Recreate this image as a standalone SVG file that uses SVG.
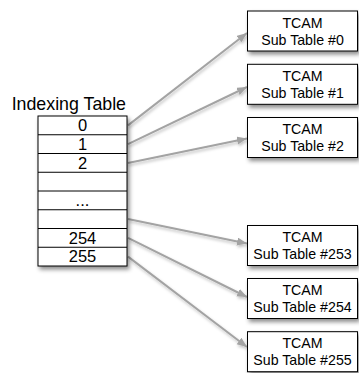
<svg xmlns="http://www.w3.org/2000/svg" width="359" height="373" viewBox="0 0 359 373">
  <style>
    .box { fill: #ffffff; stroke: #000000; stroke-width: 1; }
    .row { fill: none; stroke: #000000; stroke-width: 1; }
    .t { font-family: "Liberation Sans", Arial, sans-serif; fill: #000000; text-anchor: middle; }
    .bt { font-size: 14.2px; }
    .rt { font-size: 16.5px; }
    .lbl { font-size: 17.8px; text-anchor: end; }
    .conn { fill: none; stroke: #a3a3a3; stroke-width: 2; }
  </style>
  <defs>
    <filter id="sh" x="-20%" y="-20%" width="150%" height="150%">
      <feDropShadow dx="2" dy="3" stdDeviation="2" flood-color="#000000" flood-opacity="0.45"/>
    </filter>
    <filter id="lsh" x="-20%" y="-20%" width="150%" height="150%">
      <feDropShadow dx="1" dy="2" stdDeviation="1.5" flood-color="#000000" flood-opacity="0.25"/>
    </filter>
    <marker id="ah" markerUnits="userSpaceOnUse" markerWidth="11" markerHeight="9" refX="10" refY="4" orient="auto">
      <path d="M0,0 L10,4 L0,8 z" fill="#a3a3a3"/>
    </marker>
  </defs>

  <g id="connectors" filter="url(#lsh)">
    <line class="conn" x1="128" y1="125.4" x2="247" y2="33" marker-end="url(#ah)"/>
    <line class="conn" x1="128" y1="144.1" x2="247" y2="87" marker-end="url(#ah)"/>
    <line class="conn" x1="128" y1="162.9" x2="247" y2="138.5" marker-end="url(#ah)"/>
    <line class="conn" x1="128" y1="219.1" x2="247" y2="243.5" marker-end="url(#ah)"/>
    <line class="conn" x1="128" y1="237.9" x2="247" y2="297" marker-end="url(#ah)"/>
    <line class="conn" x1="128" y1="256.6" x2="247" y2="347" marker-end="url(#ah)"/>
  </g>

  <g id="indexing-table">
    <text class="t lbl" x="126" y="110">Indexing Table</text>
    <rect class="box" x="38" y="116" width="89" height="150" filter="url(#sh)"/>
    <line class="row" x1="38" y1="134.75" x2="127" y2="134.75"/>
    <line class="row" x1="38" y1="153.5" x2="127" y2="153.5"/>
    <line class="row" x1="38" y1="172.25" x2="127" y2="172.25"/>
    <line class="row" x1="38" y1="191" x2="127" y2="191"/>
    <line class="row" x1="38" y1="209.75" x2="127" y2="209.75"/>
    <line class="row" x1="38" y1="228.5" x2="127" y2="228.5"/>
    <line class="row" x1="38" y1="247.25" x2="127" y2="247.25"/>
    <text class="t rt" x="82.5" y="131.2">0</text>
    <text class="t rt" x="82.5" y="149.95">1</text>
    <text class="t rt" x="82.5" y="168.7">2</text>
    <text class="t rt" x="82.5" y="206.2">...</text>
    <text class="t rt" x="82.5" y="243.7">254</text>
    <text class="t rt" x="82.5" y="262.45">255</text>
  </g>

  <g id="tcam-0">
    <rect class="box" x="247.5" y="11" width="110" height="40" filter="url(#sh)"/>
    <text class="t bt" x="302.5" y="27.5">TCAM</text>
    <text class="t bt" x="302.5" y="44.5">Sub Table #0</text>
  </g>
  <g id="tcam-1">
    <rect class="box" x="247.5" y="64.3" width="110" height="40" filter="url(#sh)"/>
    <text class="t bt" x="302.5" y="80.8">TCAM</text>
    <text class="t bt" x="302.5" y="97.8">Sub Table #1</text>
  </g>
  <g id="tcam-2">
    <rect class="box" x="247.5" y="117.5" width="110" height="40" filter="url(#sh)"/>
    <text class="t bt" x="302.5" y="134">TCAM</text>
    <text class="t bt" x="302.5" y="151">Sub Table #2</text>
  </g>
  <g id="tcam-253">
    <rect class="box" x="247.5" y="225.5" width="110" height="40" filter="url(#sh)"/>
    <text class="t bt" x="302.5" y="242">TCAM</text>
    <text class="t bt" x="302.5" y="259">Sub Table #253</text>
  </g>
  <g id="tcam-254">
    <rect class="box" x="247.5" y="278.5" width="110" height="40" filter="url(#sh)"/>
    <text class="t bt" x="302.5" y="295">TCAM</text>
    <text class="t bt" x="302.5" y="312">Sub Table #254</text>
  </g>
  <g id="tcam-255">
    <rect class="box" x="247.5" y="331.7" width="110" height="40" filter="url(#sh)"/>
    <text class="t bt" x="302.5" y="348.2">TCAM</text>
    <text class="t bt" x="302.5" y="365.2">Sub Table #255</text>
  </g>
</svg>
